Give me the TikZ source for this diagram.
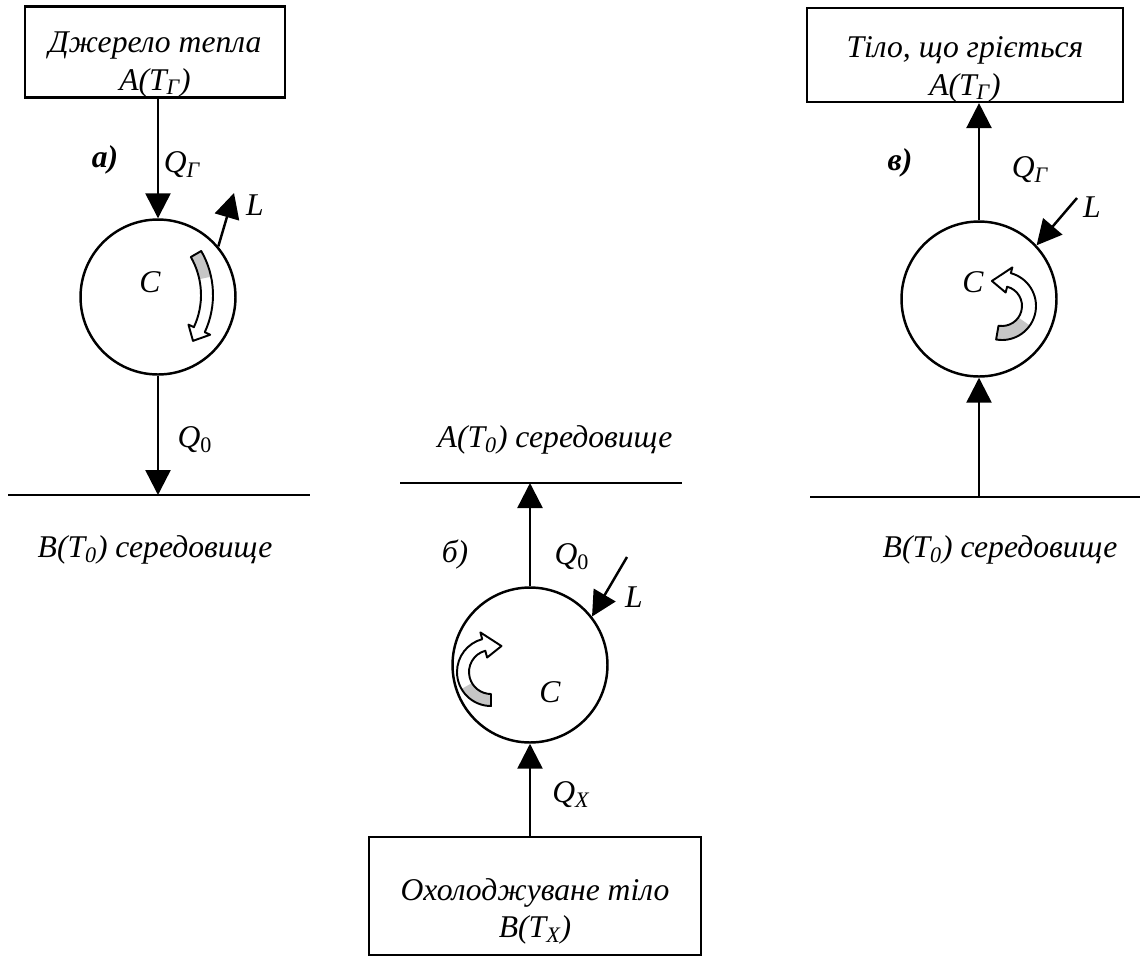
\documentclass[tikz,border=0pt]{standalone}
\usepackage{fontspec}
\setmainfont{Liberation Serif}
\usetikzlibrary{arrows.meta, positioning}

\begin{document}
\begin{tikzpicture}[
    x=0.02cm, y=-0.02cm,
    font=\fontsize{18}{21.5}\selectfont\itshape,
    box/.style={draw, line width=1.4pt, align=center, inner sep=0pt},
    cyc/.style={draw, circle, line width=1.4pt, minimum size=3.1cm, inner sep=0pt},
    arr/.style={-{Triangle[length=0.5cm, width=0.5cm]}, line width=1.4pt},
    env/.style={line width=1.4pt},
    rot/.style={draw, line width=1.1pt, line join=round},
    tail/.style={fill=gray!45},
    tag/.style={font=\fontsize{18}{21.5}\selectfont\bfseries\itshape},
]
\useasboundingbox (0,0) rectangle (1147,958);

% a) heat engine
\node[box, minimum width=5.2cm, minimum height=1.82cm] (srcA) at (155,52) {\rule{0pt}{26pt}Джерело тепла\\A(T\textsubscript{Г})};
\node[cyc] (cycA) at (158,297) {};
\coordinate (envAl) at (8,495);
\coordinate (envAr) at (310,495);
\coordinate (lA) at (234,193);
\draw[env] (envAl) -- (envAr);
\draw[arr] (srcA.south -| cycA) -- (cycA.north);
\draw[arr] (cycA.south) -- (cycA.south |- envAl);
\draw[arr] (cycA.40) -- (lA);
\node[tag] (tagA) at (105,160) {а)};
\node (qgA) at (182,165) {Q\textsubscript{Г}};
\node (lbA) at (255,205) {L};
\node (cA) at (150,282) {C};
\node (q0A) at (195,440) {Q\textsubscript{\upshape 0}};
\node (envA) at (155,550) {B(T\textsubscript{0}) середовище};
\begin{scope}[shift={(125,295)}, yscale=-1]
    \fill[tail] (30:88) arc[start angle=30, end angle=12, radius=88] -- (12:76) arc[start angle=12, end angle=30, radius=76] -- cycle;
    \draw[rot] (30:88) arc[start angle=30, end angle=-25, radius=88] -- (-25:94) -- (-34:82) -- (-25:70) -- (-25:76) arc[start angle=-25, end angle=30, radius=76] -- cycle;
\end{scope}

% b) refrigerator
\node[box, minimum width=6.64cm, minimum height=2.36cm] (sinkB) at (535,896) {\rule{0pt}{30pt}Охолоджуване тіло\\B(T\textsubscript{X})};
\node[cyc] (cycB) at (530,665) {};
\coordinate (envBl) at (400,483);
\coordinate (envBr) at (682,483);
\coordinate (lB) at (627,557);
\draw[env] (envBl) -- (envBr);
\draw[arr] (cycB.north) -- (cycB.north |- envBl);
\draw[arr] (sinkB.north -| cycB) -- (cycB.south);
\draw[arr] (lB) -- (cycB.38);
\node (envB) at (555,440) {A(T\textsubscript{0}) середовище};
\node (tagB) at (455,555) {б)};
\node (q0B) at (572,557) {Q\textsubscript{\upshape 0}};
\node (lbB) at (634,597) {L};
\node (cB) at (550,692) {C};
\node (qxB) at (571,795) {Q\textsubscript{X}};
\begin{scope}[shift={(491,672)}, yscale=-1]
    \fill[tail] (-90:34) arc[start angle=-90, end angle=-150, radius=34] -- (-150:22) arc[start angle=-150, end angle=-90, radius=22] -- cycle;
    \draw[rot] (-90:34) arc[start angle=-90, end angle=-255, radius=34] -- (-255:41) -- (-292:28) -- (-255:15) -- (-255:22) arc[start angle=-255, end angle=-90, radius=22] -- cycle;
\end{scope}

% c) heat pump
\node[box, minimum width=6.32cm, minimum height=1.8cm] (heatC) at (965,55) {\rule{0pt}{28pt}Тіло, що гріється\\A(T\textsubscript{Г})};
\node[cyc] (cycC) at (979,299) {};
\coordinate (envCl) at (810,497);
\coordinate (envCr) at (1140,497);
\coordinate (lC) at (1077,198);
\draw[env] (envCl) -- (envCr);
\draw[arr] (cycC.north) -- (cycC.north |- heatC.south);
\draw[arr] (cycC.south |- envCl) -- (cycC.south);
\draw[arr] (lC) -- (cycC.43);
\node[tag] (tagC) at (900,163) {в)};
\node (qgC) at (1030,170) {Q\textsubscript{Г}};
\node (lbC) at (1092,207) {L};
\node (cC) at (973,282) {C};
\node (envC) at (1000,550) {B(T\textsubscript{0}) середовище};
\begin{scope}[shift={(1002,306)}, yscale=-1]
    \fill[tail] (-100:34) arc[start angle=-100, end angle=-35, radius=34] -- (-35:20) arc[start angle=-35, end angle=-100, radius=20] -- cycle;
    \draw[rot] (-100:34) arc[start angle=-100, end angle=75, radius=34] -- (75:40) -- (112:27) -- (75:14) -- (75:20) arc[start angle=75, end angle=-100, radius=20] -- cycle;
\end{scope}
\end{tikzpicture}
\end{document}
